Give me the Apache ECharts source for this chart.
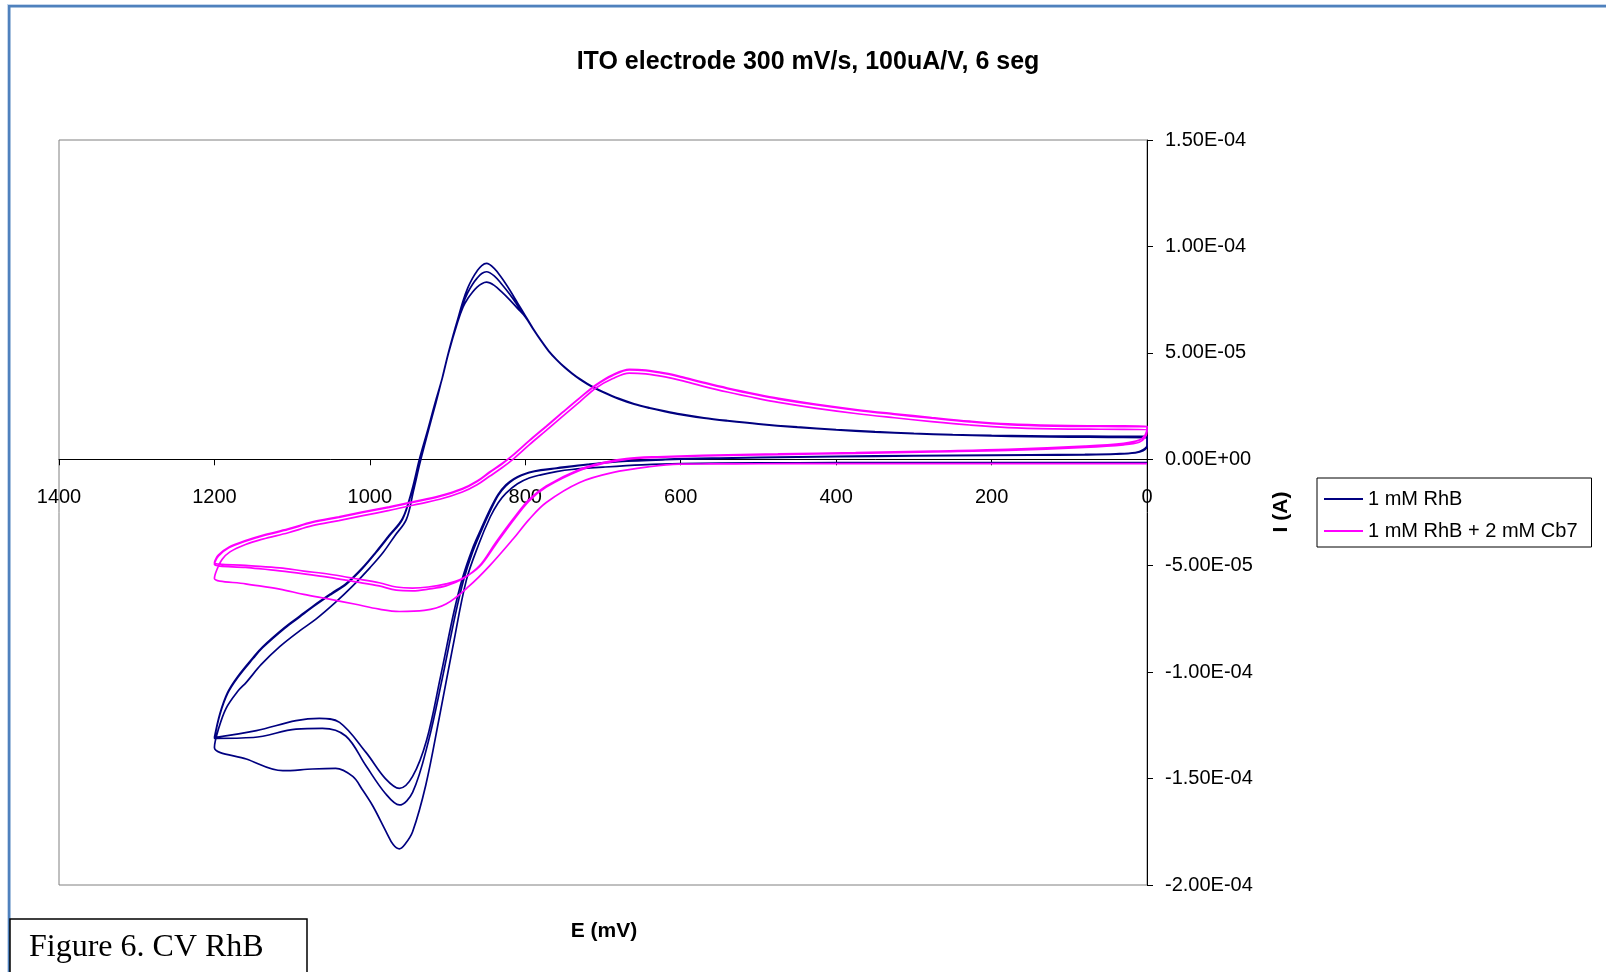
<!DOCTYPE html>
<html>
<head>
<meta charset="utf-8">
<title>ITO electrode CV</title>
<script src="https://cdn.jsdelivr.net/npm/echarts/dist/echarts.min.js"></script>
<style>
  html, body { margin: 0; padding: 0; background: #fff; }
  #main { width: 1606px; height: 972px; }
</style>
</head>
<body>
<div id="main"></div>
<script>
// E in mV, I in uA (converted to A for the chart)
// 1 mM RhB, six segments (3 cycles)
const rhbSeg1 = [[0,-1.5],[100,-1.5],[200,-1.6],[300,-1.6],[400,-1.6],[500,-1.7],[600,-2],[650,-2.6],[700,-3.7],[740,-4.8],[760,-5.8],[780,-7.3],[795,-8.8],[810,-11.5],[825,-16],[835,-20.5],[845,-27],[860,-40],[876,-57],[893,-87.7],[911,-122],[928,-153],[945,-175],[955,-181],[962,-183],[970,-181],[979,-175],[996,-163],[1010,-155],[1022,-149],[1044,-145.2],[1074,-145.5],[1112,-146.3],[1159,-140.8],[1200,-135.4]]
const rhbSeg2 = [[1200,-135.4],[1195,-127],[1185,-117],[1170,-109],[1159,-104.8],[1140,-96.5],[1116,-88],[1090,-80.5],[1069,-75],[1045,-67.5],[1022,-59.5],[1000,-51],[983,-43.8],[968,-36],[953,-28.2],[944,-15],[935,-1],[925,13],[915,26.6],[907,38],[899,50],[887,65.7],[880,74.5],[874,80.5],[868,85],[862,88.5],[856,91],[850,92],[840,89.7],[830,85],[820,79.5],[810,73.5],[800,67.5],[790,61.5],[780,56],[770,51],[760,47],[750,43.5],[740,40.5],[730,37.8],[720,35.5],[710,33.5],[700,31.7],[680,28.6],[660,26.1],[640,24.2],[620,22.6],[600,21.2],[570,19.5],[540,18.2],[500,16.7],[450,15.2],[400,14],[350,13],[300,12.2],[250,11.6],[200,11.2],[150,11],[100,10.9],[50,10.8],[0,10.8]]
const rhbSeg3 = [[0,6.5],[5,4.5],[15,3.2],[40,2.6],[80,2.3],[150,2.1],[250,1.9],[350,1.6],[450,1.2],[550,0.6],[620,0],[680,-1],[720,-2.5],[760,-4.3],[780,-5.2],[795,-6.3],[805,-7.6],[815,-9.5],[825,-12.5],[835,-17],[846,-25],[857,-34],[868,-43.8],[879,-56.3],[890,-73],[907,-103.3],[925,-133],[945,-156.5],[962,-162.4],[980,-157],[1005,-144],[1031,-130],[1061,-126.4],[1095,-126.8],[1150,-130.7],[1200,-131.1]]
const rhbSeg4 = [[1200,-131.1],[1193,-120],[1183,-110],[1170,-102.5],[1150,-93.5],[1138,-88.5],[1110,-79.5],[1090,-74],[1074,-69.6],[1050,-63.5],[1030,-58.6],[1010,-51.5],[992,-43.8],[975,-36],[958,-28.2],[946,-15],[936,0],[926,13],[916,26.6],[907,38],[899,50],[887,65.7],[880,73.2],[874,78.3],[868,82.1],[862,85.1],[856,87.3],[850,88.1],[840,86.2],[830,82.1],[820,77.5],[810,72.3],[800,67.2],[790,61.4],[780,55.9],[770,50.9],[760,46.9],[750,43.4],[740,40.4],[730,37.7],[720,35.4],[710,33.4],[700,31.6],[680,28.5],[660,26],[640,24.1],[620,22.5],[600,21.1],[570,19.4],[540,18.1],[500,16.6],[450,15.1],[400,13.9],[350,12.9],[300,12.1],[250,11.5],[200,11.1],[150,10.8],[100,10.6],[50,10.5],[0,10.5]]
const rhbSeg5 = [[0,6],[5,4],[15,3],[40,2.4],[80,2.1],[150,1.9],[250,1.7],[350,1.4],[450,1],[550,0.4],[620,-0.2],[680,-1.1],[720,-2.4],[760,-4.1],[780,-5],[795,-6.1],[805,-7.4],[815,-9.2],[825,-12],[835,-16.5],[846,-24],[857,-32.8],[868,-42],[881,-56],[892,-72],[909,-102],[927,-132],[945,-149],[962,-154.6],[980,-150],[1005,-137.7],[1039,-123.6],[1065,-121.7],[1095,-122.8],[1146,-127.5],[1200,-130.7]]
const rhbSeg6 = [[1200,-130.7],[1193,-119.5],[1183,-109.5],[1170,-102],[1150,-93],[1138,-88.1],[1110,-79.1],[1090,-73.6],[1074,-69.2],[1050,-63.1],[1030,-58.2],[1010,-51.1],[992,-43.4],[975,-35.6],[958,-27.8],[946,-14.6],[936,0.4],[926,13.2],[916,26.6],[907,37.8],[899,49.6],[887,64.5],[880,71.6],[874,75.5],[868,78.5],[862,80.9],[856,82.5],[850,83.2],[840,81.7],[830,78.5],[820,74.9],[810,70.9],[800,66.9],[790,61.2],[780,55.8],[770,50.8],[760,46.8],[750,43.3],[740,40.3],[730,37.6],[720,35.3],[710,33.3],[700,31.5],[680,28.4],[660,25.9],[640,24],[620,22.4],[600,21],[570,19.3],[540,18],[500,16.5],[450,15],[400,13.8],[350,12.8],[300,12],[250,11.4],[200,11],[150,10.6],[100,10.4],[50,10.3],[0,10.2]]

// 1 mM RhB + 2 mM Cb7
const cb7Seg1 = [[0,-2],[100,-2],[200,-2],[300,-2],[400,-2],[500,-2.1],[560,-2.2],[602,-2.3],[640,-3.5],[688,-6.3],[730,-10.9],[773,-20.3],[795,-28.2],[816,-37.6],[846,-50.1],[872,-59.5],[902,-68],[930,-71],[962,-71.5],[988,-70.4],[1020,-68],[1052,-65.7],[1085,-63.5],[1116,-61],[1160,-58.5],[1200,-56]]
const cb7Seg2 = [[1200,-56],[1197,-52],[1190,-47],[1180,-43.5],[1160,-40],[1138,-37.5],[1105,-34.5],[1074,-31.2],[1040,-28.8],[1009,-26.5],[975,-24],[945,-21.6],[910,-18.8],[881,-15.4],[862,-12],[846,-8],[830,-4],[816,0],[795,6.8],[773,13.6],[752,20.2],[730,27],[709,33.5],[688,37.8],[666,40.5],[645,40.1],[620,38.7],[600,37.1],[572,34.4],[540,31.6],[500,28.5],[474,26.7],[425,23.9],[375,21.5],[325,19.5],[277,17.7],[228,16.1],[179,14.9],[120,14.3],[60,14.1],[0,14]]
const cb7Seg3 = [[0,14],[3,11],[10,9],[30,7.5],[80,6.2],[179,4.7],[275,3.9],[375,3.1],[475,2.5],[572,1.9],[630,1.2],[670,0.3],[700,-1.6],[730,-4.7],[773,-12.5],[795,-18.8],[816,-28.2],[838,-39.1],[859,-50.1],[881,-56.3],[902,-59.5],[925,-61],[945,-61.8],[966,-61.5],[988,-59.5],[1020,-57.5],[1052,-55.5],[1085,-53.8],[1116,-52.4],[1160,-50.8],[1200,-49.3]]
const cb7Seg4 = [[1200,-49.3],[1195,-45.5],[1181,-41.5],[1160,-38.5],[1138,-36],[1105,-33],[1074,-29.7],[1040,-27.3],[1009,-25],[975,-22.6],[945,-20.3],[910,-17.5],[881,-14.1],[862,-10.5],[846,-6.25],[830,-2.2],[816,1.8],[795,8.6],[773,15.4],[752,22],[730,28.8],[709,35],[688,39.6],[666,42.25],[645,41.9],[620,40.5],[600,38.9],[572,36.3],[540,33.5],[500,30.4],[474,28.6],[425,25.8],[375,23.4],[325,21.4],[277,19.6],[228,17.9],[179,16.6],[120,15.9],[60,15.7],[0,15.6]]
const cb7Seg5 = [[0,13],[3,10],[10,8],[30,6.8],[80,5.6],[179,4.2],[275,3.5],[375,2.8],[475,2.2],[572,1.6],[630,0.9],[670,0],[700,-2],[730,-5.2],[773,-13],[795,-19.5],[816,-29],[838,-40],[859,-50.5],[881,-56],[902,-58.5],[925,-60],[945,-60.5],[966,-60],[988,-58],[1020,-56],[1052,-54],[1085,-52.5],[1116,-51],[1160,-49.8],[1200,-48.5]]
const cb7Seg6 = [[1200,-48.5],[1195,-45],[1181,-41.2],[1160,-38.2],[1138,-35.7],[1105,-32.7],[1074,-29.4],[1040,-27],[1009,-24.7],[975,-22.3],[945,-20],[910,-17.2],[881,-13.8],[862,-10.2],[846,-6],[830,-2],[816,2],[795,8.8],[773,15.6],[752,22.1],[730,28.8],[709,34.8],[688,39.3],[666,42],[645,41.6],[620,40.2],[600,38.6],[572,36],[540,33.2],[500,30.1],[474,28.3],[425,25.5],[375,23.1],[325,21.1],[277,19.3],[228,17.6],[179,16.3],[120,15.6],[60,15.4],[0,15.3]]

const seriesNames = ['1 mM RhB', '1 mM RhB + 2 mM Cb7']
const xTicks = [0, 1400, 200]          // min, max, interval (mV)
const yTicks = [-2e-4, 1.5e-4, 5e-5]   // min, max, interval (A)

const toAmp = seg => seg.map(p => [p[0], p[1] * 1e-6])
const rhbData = toAmp([].concat(rhbSeg1, rhbSeg2, rhbSeg3, rhbSeg4, rhbSeg5, rhbSeg6))
const cb7Data = toAmp([].concat(cb7Seg1, cb7Seg2, cb7Seg3, cb7Seg4, cb7Seg5, cb7Seg6))

function sci(v) {
  if (Math.abs(v) < 1e-12) return '0.00E+00'
  const parts = v.toExponential(2).split('e')
  const sign = parts[1][0]
  const exp = parts[1].slice(1).padStart(2, '0')
  return parts[0] + 'E' + sign + exp
}

const FONT = '"Liberation Sans", Arial, sans-serif'
const GRID = { left: 59, top: 140, width: 1088, height: 745 }
// move the x axis up so it crosses the y axis at I = 0
const zeroOffset = -GRID.height * (0 - yTicks[0]) / (yTicks[1] - yTicks[0])

const myChart = echarts.init(document.getElementById('main'), null, { renderer: 'canvas' })

myChart.setOption({
  animation: false,
  backgroundColor: '#fff',
  grid: Object.assign({ show: true, borderColor: '#808080', borderWidth: 1, backgroundColor: '#fff' }, GRID),
  legend: {
    orient: 'vertical',
    left: 1317, top: 478,
    padding: [11, 14, 6, 7],
    itemGap: 12,
    itemWidth: 39, itemHeight: 2,
    icon: 'rect',
    borderColor: '#000', borderWidth: 1,
    textStyle: { fontFamily: FONT, fontSize: 20, color: '#000' },
    data: seriesNames
  },
  xAxis: {
    type: 'value',
    inverse: true,
    position: 'bottom',
    offset: zeroOffset,
    min: xTicks[0], max: xTicks[1], interval: xTicks[2],
    axisLine: { onZero: false, lineStyle: { color: '#000', width: 1 } },
    axisTick: { length: 6, lineStyle: { color: '#000' } },
    axisLabel: { margin: 28, fontFamily: FONT, fontSize: 20, color: '#000', showMinLabel: true, showMaxLabel: true,
      formatter: v => String(v) },
    splitLine: { show: false }
  },
  yAxis: {
    type: 'value',
    position: 'right',
    min: yTicks[0], max: yTicks[1], interval: yTicks[2],
    axisLine: { show: true, lineStyle: { color: '#000', width: 1 } },
    axisTick: { show: true, length: 6, lineStyle: { color: '#000' } },
    axisLabel: { margin: 18, fontFamily: FONT, fontSize: 20, color: '#000', formatter: sci },
    splitLine: { show: false }
  },
  graphic: [
    { type: 'rect', shape: { x: 7, y: 4, width: 1599, height: 1 }, style: { fill: '#c5d6ec' }, silent: true },
    { type: 'rect', shape: { x: 7, y: 4, width: 1, height: 968 }, style: { fill: '#c5d6ec' }, silent: true },
    { type: 'rect', shape: { x: 8, y: 5, width: 1598, height: 2.5 }, style: { fill: '#4f81bd' }, silent: true },
    { type: 'rect', shape: { x: 8, y: 5, width: 2.5, height: 967 }, style: { fill: '#4f81bd' }, silent: true },
    {
      type: 'text', x: 808, y: 62,
      style: { text: 'ITO electrode 300 mV/s, 100uA/V, 6 seg', font: 'bold 25px ' + FONT, fill: '#000',
        align: 'center', verticalAlign: 'middle', textAlign: 'center', textVerticalAlign: 'middle' }
    },
    {
      type: 'text', x: 604, y: 931,
      style: { text: 'E (mV)', font: 'bold 21px ' + FONT, fill: '#000',
        align: 'center', verticalAlign: 'middle', textAlign: 'center', textVerticalAlign: 'middle' }
    },
    {
      type: 'text', x: 1281, y: 512, rotation: Math.PI / 2,
      style: { text: 'I (A)', font: 'bold 21px ' + FONT, fill: '#000',
        align: 'center', verticalAlign: 'middle', textAlign: 'center', textVerticalAlign: 'middle' }
    },
    { type: 'rect', z: 10, shape: { x: 10, y: 919, width: 297, height: 70 }, style: { fill: '#fff', stroke: '#000', lineWidth: 1.5 } },
    {
      type: 'text', z: 11, x: 29, y: 948,
      style: { text: 'Figure 6. CV RhB', font: '32px "Liberation Serif", "Times New Roman", serif', fill: '#000',
        align: 'left', verticalAlign: 'middle', textAlign: 'left', textVerticalAlign: 'middle' }
    }
  ],
  series: [
    {
      name: seriesNames[0], type: 'line', data: rhbData,
      showSymbol: false, symbol: 'none', smooth: 0.35,
      lineStyle: { color: '#000080', width: 1.7 }, itemStyle: { color: '#000080' }
    },
    {
      name: seriesNames[1], type: 'line', data: cb7Data,
      showSymbol: false, symbol: 'none', smooth: 0.35,
      lineStyle: { color: '#ff00ff', width: 1.7 }, itemStyle: { color: '#ff00ff' }
    }
  ]
})
</script>
</body>
</html>
